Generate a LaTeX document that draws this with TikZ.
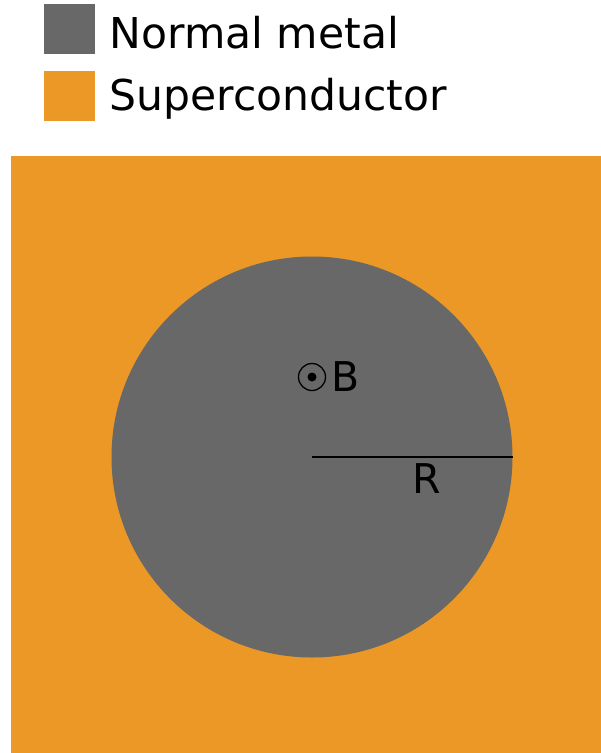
\documentclass[tikz,border=0pt]{standalone}
\usepackage{fontspec}
\setmainfont{DejaVu Sans}
\usetikzlibrary{positioning}
\definecolor{MetalGray}{RGB}{104,104,104}
\definecolor{ScOrange}{RGB}{235,152,38}
\tikzset{
  swatch/.style={minimum width=51pt,minimum height=50pt,inner sep=0pt,anchor=north west},
  legendtext/.style={anchor=west,inner sep=0pt,font=\fontsize{42.5}{46}\selectfont},
  label/.style={inner sep=0pt,font=\fontsize{41}{44}\selectfont},
  radius/.style={black,line width=1.2pt}
}
\begin{document}
\begin{tikzpicture}[x=1pt,y=-1pt]
  \useasboundingbox (0,0) rectangle (601,753);
  % legend
  \node[swatch,fill=MetalGray] (keyN) at (44,4) {};
  \node[swatch,fill=ScOrange] (keyS) at (44,71) {};
  \node[legendtext,right=14pt of keyN.east,anchor=west,yshift=-3pt] (txtN) {Normal metal};
  \node[legendtext,right=14pt of keyS.east,anchor=west,yshift=-3pt] (txtS) {Superconductor};
  % sample
  \fill[ScOrange] (11,156) rectangle (601,753);
  \node[circle,fill=MetalGray,minimum size=401pt,inner sep=0pt] (disk) at (312,457) {};
  \coordinate (edge) at (disk.east);
  \draw[radius] (disk.center) -- (edge);
  \node[label] (R) at (427,479) {R};
  % field out of the plane
  \node[circle,draw,line width=1.3pt,minimum size=27pt,inner sep=0pt] (field) at (312,377) {};
  \fill (field.center) circle (4.5pt);
  \node[label,right=5pt of field] (B) {B};
\end{tikzpicture}
\end{document}
